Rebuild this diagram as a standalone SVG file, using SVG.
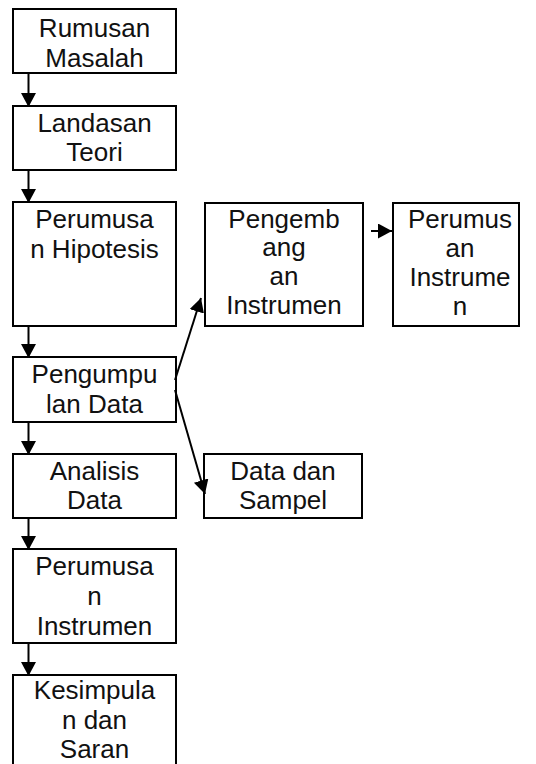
<svg xmlns="http://www.w3.org/2000/svg" width="536" height="764" viewBox="0 0 536 764">
<style>
.box{fill:#fff;stroke:#000;stroke-width:2}
.t{font-family:"Liberation Sans",Arial,sans-serif;font-size:26px;fill:#111;text-anchor:middle}
.c{stroke:#000;stroke-width:2;fill:none;marker-end:url(#ah)}
</style>
<defs>
<marker id="ah" markerUnits="userSpaceOnUse" markerWidth="16" markerHeight="16" refX="14" refY="7.5" orient="auto">
<path d="M0,0 L14,7.5 L0,15 z" fill="#000"/>
</marker>
</defs>
<rect width="536" height="764" fill="#fff"/>
<g id="n1"><rect class="box" x="13" y="9" width="163" height="64"/><text class="t" x="94.5" y="37">Rumusan</text><text class="t" x="94.5" y="67">Masalah</text></g>
<g id="n2"><rect class="box" x="13" y="106" width="163" height="64"/><text class="t" x="94.5" y="132">Landasan</text><text class="t" x="94.5" y="161">Teori</text></g>
<g id="n3"><rect class="box" x="13" y="202" width="163" height="124"/><text class="t" x="94.5" y="228">Perumusa</text><text class="t" x="94.5" y="258">n Hipotesis</text></g>
<g id="n4"><rect class="box" x="13" y="357" width="163" height="65"/><text class="t" x="94.5" y="383">Pengumpu</text><text class="t" x="94.5" y="413">lan Data</text></g>
<g id="n5"><rect class="box" x="13" y="454" width="163" height="64"/><text class="t" x="94.5" y="480">Analisis</text><text class="t" x="94.5" y="509">Data</text></g>
<g id="n6"><rect class="box" x="13" y="549" width="163" height="94"/><text class="t" x="94.5" y="575">Perumusa</text><text class="t" x="94.5" y="605">n</text><text class="t" x="94.5" y="635">Instrumen</text></g>
<g id="n7"><rect class="box" x="13" y="675" width="163" height="100"/><text class="t" x="94.5" y="699">Kesimpula</text><text class="t" x="94.5" y="729">n dan</text><text class="t" x="94.5" y="758">Saran</text></g>
<g id="n8"><rect class="box" x="205" y="203" width="158" height="123"/><text class="t" x="284" y="228">Pengemb</text><text class="t" x="284" y="256">ang</text><text class="t" x="284" y="285">an</text><text class="t" x="284" y="314">Instrumen</text></g>
<g id="n9"><rect class="box" x="393" y="203" width="126" height="123"/><text class="t" x="460" y="228">Perumus</text><text class="t" x="460" y="257">an</text><text class="t" x="460" y="286">Instrume</text><text class="t" x="460" y="315">n</text></g>
<g id="n10"><rect class="box" x="204" y="454" width="158" height="64"/><text class="t" x="283" y="480">Data dan</text><text class="t" x="283" y="509">Sampel</text></g>
<g id="connectors">
<line class="c" x1="28.5" y1="73" x2="28.5" y2="107"/>
<line class="c" x1="28.5" y1="170" x2="28.5" y2="203"/>
<line class="c" x1="28.5" y1="326" x2="28.5" y2="358"/>
<line class="c" x1="28.5" y1="422" x2="28.5" y2="455"/>
<line class="c" x1="28.5" y1="518" x2="28.5" y2="550"/>
<line class="c" x1="28.5" y1="643" x2="28.5" y2="676"/>
<line class="c" x1="371" y1="231" x2="392" y2="231"/>
<line class="c" x1="175" y1="380" x2="201" y2="298"/>
<line class="c" x1="175" y1="390" x2="205" y2="494"/>
</g>
</svg>
